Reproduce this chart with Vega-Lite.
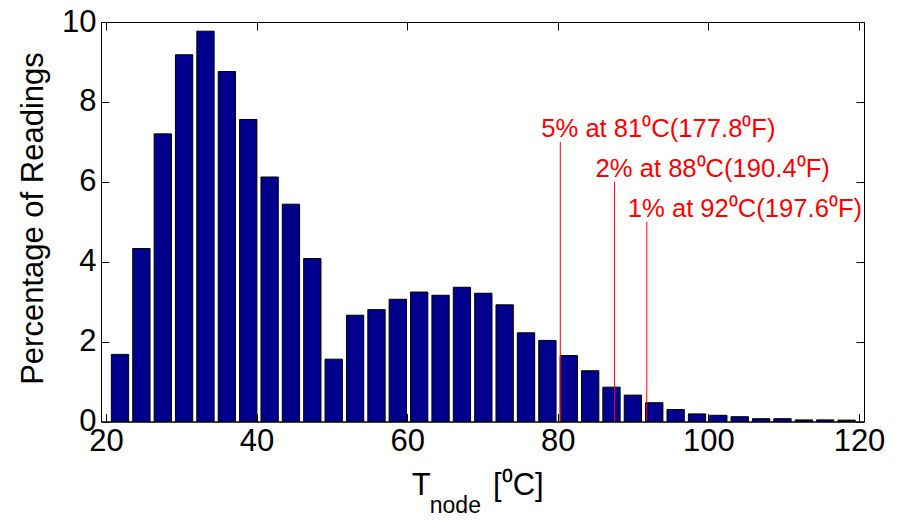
{
  "$schema": "https://vega.github.io/schema/vega-lite/v6.json",
  "width": 763,
  "height": 399.5,
  "autosize": {"type": "none"},
  "padding": {"left": 101, "top": 22, "right": 35, "bottom": 99.5},
  "background": "white",
  "config": {
    "view": {"stroke": "black", "strokeWidth": 1},
    "font": "Liberation Sans",
    "axis": {
      "grid": false,
      "labelFont": "Liberation Sans",
      "labelFontSize": 31,
      "labelColor": "black",
      "titleFont": "Liberation Sans",
      "titleFontSize": 31,
      "titleFontWeight": "normal",
      "titleColor": "black",
      "tickColor": "black",
      "domainColor": "black",
      "tickSize": -8,
      "tickWidth": 1
    }
  },
  "datasets": {
    "bars": [
      {"temp": 21.86, "pct": 1.68},
      {"temp": 24.70, "pct": 4.33},
      {"temp": 27.54, "pct": 7.20},
      {"temp": 30.37, "pct": 9.18},
      {"temp": 33.21, "pct": 9.77},
      {"temp": 36.05, "pct": 8.76},
      {"temp": 38.89, "pct": 7.56},
      {"temp": 41.73, "pct": 6.12},
      {"temp": 44.56, "pct": 5.44},
      {"temp": 47.40, "pct": 4.08},
      {"temp": 50.24, "pct": 1.56},
      {"temp": 53.08, "pct": 2.66},
      {"temp": 55.92, "pct": 2.80},
      {"temp": 58.75, "pct": 3.06},
      {"temp": 61.59, "pct": 3.24},
      {"temp": 64.43, "pct": 3.16},
      {"temp": 67.27, "pct": 3.36},
      {"temp": 70.11, "pct": 3.21},
      {"temp": 72.94, "pct": 2.92},
      {"temp": 75.78, "pct": 2.22},
      {"temp": 78.62, "pct": 2.03},
      {"temp": 81.46, "pct": 1.65},
      {"temp": 84.30, "pct": 1.27},
      {"temp": 87.13, "pct": 0.86},
      {"temp": 89.97, "pct": 0.66},
      {"temp": 92.81, "pct": 0.47},
      {"temp": 95.65, "pct": 0.30},
      {"temp": 98.49, "pct": 0.19},
      {"temp": 101.32, "pct": 0.155},
      {"temp": 104.16, "pct": 0.12},
      {"temp": 107.00, "pct": 0.07},
      {"temp": 109.84, "pct": 0.07},
      {"temp": 112.68, "pct": 0.04},
      {"temp": 115.51, "pct": 0.04},
      {"temp": 118.35, "pct": 0.035}
    ],
    "marks": [
      {"temp": 80.33, "level": 7, "label": "5% at 81⁰C(177.8⁰F)"},
      {"temp": 87.54, "level": 6, "label": "2% at 88⁰C(190.4⁰F)"},
      {"temp": 91.82, "level": 5, "label": "1% at 92⁰C(197.6⁰F)"}
    ],
    "one": [{}]
  },
  "layer": [
    {
      "data": {"name": "bars"},
      "mark": {"type": "bar", "width": 17.3, "fill": "#00008f", "stroke": "black", "strokeWidth": 1},
      "encoding": {
        "x": {
          "field": "temp", "type": "quantitative",
          "scale": {"domain": [20, 120], "nice": false, "zero": false},
          "axis": {"values": [20, 40, 60, 80, 100, 120], "title": null, "labelPadding": 13, "orient": "bottom"}
        },
        "y": {
          "field": "pct", "type": "quantitative",
          "scale": {"domain": [0, 10], "nice": false},
          "axis": {"values": [0, 2, 4, 6, 8, 10], "title": "Percentage of Readings", "labelPadding": 13, "orient": "left", "titleX": -59, "titleY": 196, "titleBaseline": "alphabetic"}
        }
      }
    },
    {
      "data": {"name": "marks"},
      "mark": {"type": "rule", "color": "red", "strokeWidth": 1},
      "encoding": {
        "x": {
          "field": "temp", "type": "quantitative",
          "axis": {"values": [20, 40, 60, 80, 100, 120], "orient": "top", "labels": false, "title": null, "domain": false}
        },
        "y": {
          "field": "level", "type": "quantitative",
          "axis": {"values": [0, 2, 4, 6, 8, 10], "orient": "right", "labels": false, "title": null, "domain": false}
        },
        "y2": {"datum": 0}
      }
    },
    {
      "data": {"name": "marks"},
      "mark": {"type": "text", "color": "red", "font": "Liberation Sans", "fontSize": 25.6, "align": "left", "baseline": "alphabetic", "dx": -19, "dy": -5},
      "encoding": {
        "x": {"field": "temp", "type": "quantitative", "axis": null},
        "y": {"field": "level", "type": "quantitative", "axis": null},
        "text": {"field": "label"}
      }
    },
    {
      "data": {"name": "one"},
      "mark": {"type": "text", "font": "Liberation Sans", "fontSize": 31, "align": "left", "baseline": "alphabetic", "color": "black"},
      "encoding": {
        "x": {"datum": 60.6, "axis": null},
        "y": {"datum": -1.84, "axis": null},
        "text": {"value": "T"}
      }
    },
    {
      "data": {"name": "one"},
      "mark": {"type": "text", "font": "Liberation Sans", "fontSize": 23, "align": "left", "baseline": "alphabetic", "color": "black"},
      "encoding": {
        "x": {"datum": 63.0, "axis": null},
        "y": {"datum": -2.30, "axis": null},
        "text": {"value": "node"}
      }
    },
    {
      "data": {"name": "one"},
      "mark": {"type": "text", "font": "Liberation Sans", "fontSize": 31, "align": "left", "baseline": "alphabetic", "color": "black"},
      "encoding": {
        "x": {"datum": 71.4, "axis": null},
        "y": {"datum": -1.84, "axis": null},
        "text": {"value": "[⁰C]"}
      }
    }
  ],
  "resolve": {"axis": {"x": "independent", "y": "independent"}}
}
